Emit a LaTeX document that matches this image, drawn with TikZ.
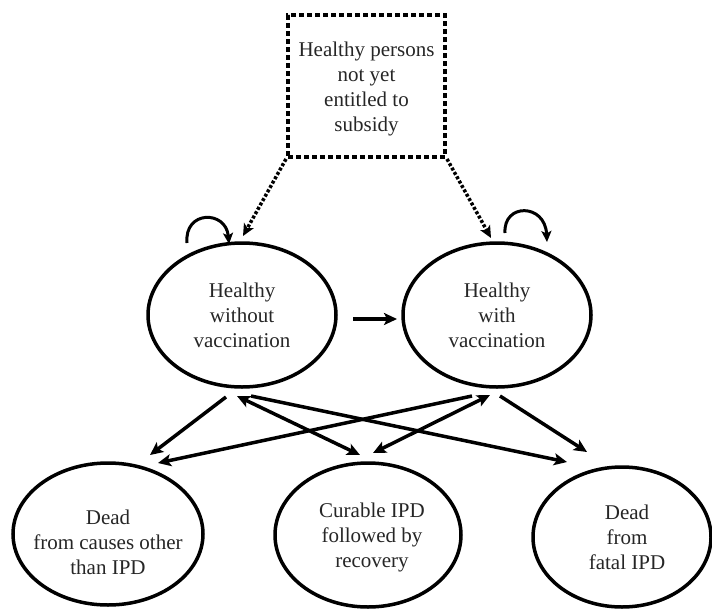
\documentclass[tikz,border=0pt]{standalone}
\usepackage{fontspec}
\setmainfont{Liberation Serif}
\usetikzlibrary{arrows.meta,shapes.geometric,calc}
\begin{document}
\begin{tikzpicture}[x=1pt,y=-1pt,
  state/.style={ellipse, draw=black, line width=3.5pt, inner sep=0pt, outer sep=0pt},
  txt/.style={align=center, font=\fontsize{21}{25}\selectfont, text=black!85, inner sep=0pt},
  tip/.style={},
  arr/.style={line width=3.5pt, -{Stealth[length=13pt,width=12pt,inset=3pt]}},
  darr/.style={line width=3.5pt, {Stealth[length=13pt,width=12pt,inset=3pt]}-{Stealth[length=13pt,width=12pt,inset=3pt]}},
  looparr/.style={line width=3pt, -{Stealth[length=11pt,width=10pt,inset=2.5pt]}},
  dotarr/.style={line width=3.5pt, dash pattern=on 3pt off 2pt, -{Stealth[length=12pt,width=11pt,inset=3pt]}},
  sourcebox/.style={draw=black, line width=4pt, dash pattern=on 5pt off 3pt, minimum width=157pt, minimum height=142pt, inner sep=0pt}
]
\useasboundingbox (0,0) rectangle (712,608);

% top source box
\node[sourcebox] (S) at (366.5,86) {};
\node[txt] (St) at (366.5,89) {Healthy persons\\not yet\hspace*{0.8em}\\entitled to\\subsidy};

% healthy states
\node[state, minimum width=188pt, minimum height=144pt] (L) at (242,315) {};
\node[txt] (Lt) at (L) {Healthy\\without\\vaccination};
\node[state, minimum width=188pt, minimum height=144pt] (R) at (497,315) {};
\node[txt] (Rt) at (R) {Healthy\\with\\vaccination};

% absorbing / outcome states
\node[state, minimum width=190pt, minimum height=142pt] (BL) at (108,534) {};
\node[txt] (BLt) at ($(BL)+(0,8)$) {Dead\\from causes other\\than IPD};
\node[state, minimum width=186pt, minimum height=144pt] (BM) at (368,535) {};
\node[txt] (BMt) at ($(BM)+(4,2)$) {Curable IPD\\followed by\\recovery};
\node[state, minimum width=178pt, minimum height=140pt] (BR) at (622,537) {};
\node[txt] (BRt) at ($(BR)+(5,0)$) {Dead\\from\\fatal IPD};

% dotted entry arrows
\draw[dotarr] (S.south west) -- ($(L)+(1,-79)$);
\draw[dotarr] (S.south east) -- ($(R)+(-6,-77)$);

% self loops
\draw[looparr] ($(L)+(-55,-72)$) .. controls ($(L)+(-58,-105)$) and ($(L)+(-16,-105)$) .. ($(L)+(-13,-71)$);
\draw[looparr] ($(R)+(8,-82)$) .. controls ($(R)+(6,-112)$) and ($(R)+(48,-112)$) .. ($(R)+(50,-73)$);

% vaccination
\draw[arr] ($(L)+(111,4)$) -- ($(R)+(-100,4)$);

% transitions to outcomes
\draw[arr] ($(L)+(-16,82)$) -- ($(BL)+(42,-79)$);
\draw[darr] ($(L)+(-5,81)$) -- ($(BM)+(-8,-80)$);
\draw[arr] ($(L)+(9,81)$) -- ($(BR)+(-55,-75)$);
\draw[arr] ($(R)+(-25,81)$) -- ($(BL)+(50,-71)$);
\draw[darr] ($(R)+(-7,80)$) -- ($(BM)+(5,-82)$);
\draw[arr] ($(R)+(3,81)$) -- ($(BR)+(-35,-85)$);
\end{tikzpicture}
\end{document}
